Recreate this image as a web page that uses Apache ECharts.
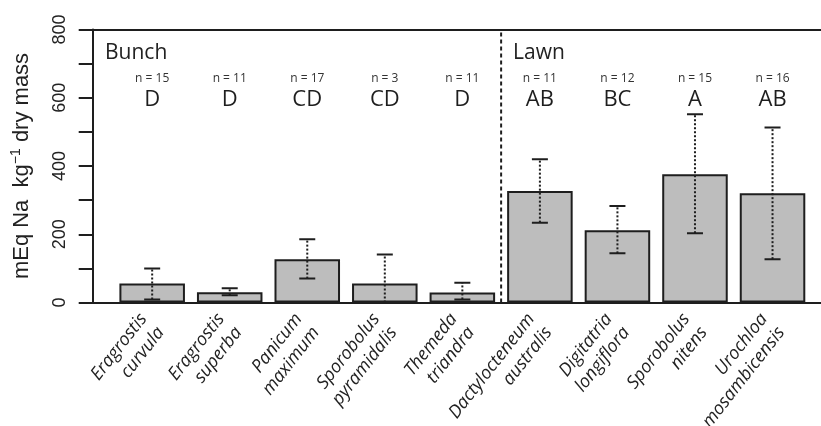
<!DOCTYPE html>
<html>
<head>
<meta charset="utf-8">
<script src="https://cdn.jsdelivr.net/npm/echarts@6/dist/echarts.min.js"></script>
<style>html,body{margin:0;padding:0;background:#fff;}#c{width:821px;height:426px;}</style>
</head>
<body>
<div id="c"></div>
<script>
// ---- data ----
var categories = [
  'Eragrostis\ncurvula', 'Eragrostis\nsuperba', 'Panicum\nmaximum', 'Sporobolus\npyramidalis', 'Themeda\ntriandra',
  'Dactylocteneum\naustralis', 'Digitatria\nlongiflora', 'Sporobolus\nnitens', 'Urochloa\nmosambicensis'
];
var means   = [56, 30, 127, 56, 29, 327, 212, 376, 320];
var errLow  = [9, 21, 70, 0, 9, 234, 144, 203, 127];
var errHigh = [100, 42, 185, 141, 58, 420, 283, 552, 513];
var sampleN = [15, 11, 17, 3, 11, 11, 12, 15, 16];
var groupLetters = ['D', 'D', 'CD', 'CD', 'D', 'AB', 'BC', 'A', 'AB'];
var groupNames = ['Bunch', 'Lawn'];
var bunchCount = 5;
var yTicks = [0, 200, 400, 600, 800];

// ---- layout ----
var W = 821, H = 426;
var plotTop = 29.5, plotBottom = 302.5;
var frameLeft = 92.7;
var barLeft = 113.4, barRight = 811.3;
var band = (barRight - barLeft) / categories.length;
var frameMin = -0.5 - (barLeft - frameLeft) / band;
var frameMax = categories.length - 0.5 + (W - barRight) / band;
var N_Y = 655, L_Y = 595;
var ink = '#1e1e1e';

var chart = echarts.init(document.getElementById('c'), null, {renderer: 'canvas'});

var errData = means.map(function (m, i) { return [i, errLow[i], errHigh[i]]; });
var annData = means.map(function (m, i) { return [i, N_Y, L_Y]; });

chart.setOption({
  animation: false,
  backgroundColor: '#fff',
  grid: [
    {left: barLeft, right: W - barRight, top: plotTop, bottom: H - plotBottom, containLabel: false, outerBoundsMode: 'none'},
    {left: frameLeft, right: 0, top: plotTop, bottom: H - plotBottom, containLabel: false, outerBoundsMode: 'none'}
  ],
  xAxis: [
    {
      type: 'category', gridIndex: 0, data: categories,
      axisLine: {show: false}, axisTick: {show: false},
      axisLabel: {
        rotate: 52, interval: 0, margin: 20,
        fontFamily: 'Open Sans', fontStyle: 'italic', fontSize: 18, lineHeight: 22,
        color: '#222', padding: [28, 0, 0, 0]
      }
    },
    {
      type: 'value', gridIndex: 1, min: frameMin, max: frameMax, position: 'bottom',
      axisLine: {show: true, onZero: false, lineStyle: {color: ink, width: 2}},
      axisTick: {show: false}, axisLabel: {show: false}, splitLine: {show: false}
    },
    {
      type: 'value', gridIndex: 1, min: frameMin, max: frameMax, position: 'top',
      axisLine: {show: true, onZero: false, lineStyle: {color: ink, width: 2}},
      axisTick: {show: false}, axisLabel: {show: false}, splitLine: {show: false}
    }
  ],
  yAxis: [
    {type: 'value', gridIndex: 0, min: 0, max: 800, show: false},
    {
      type: 'value', gridIndex: 1, min: 0, max: 800, interval: 100, position: 'left',
      axisLine: {show: true, onZero: false, lineStyle: {color: ink, width: 2}},
      axisTick: {show: true, length: 14, lineStyle: {color: ink, width: 2}},
      splitLine: {show: false},
      axisLabel: {
        rotate: 90, margin: 24, fontFamily: 'Liberation Sans', fontSize: 18, color: '#222',
        formatter: function (v) { return yTicks.indexOf(v) >= 0 ? String(v) : ''; }
      },
      name: 'mEq Na  kg{sup|\u22121} dry mass',
      nameLocation: 'middle', nameRotate: 90, nameGap: 58,
      nameTextStyle: {
        fontFamily: 'Liberation Sans', fontSize: 22, color: '#222',
        rich: {sup: {fontFamily: 'Liberation Sans', fontSize: 14, color: '#222', verticalAlign: 'top', padding: [0, 0, 12, 0]}}
      }
    }
  ],
  graphic: [
    {type: 'text', left: 105, top: 43, style: {text: groupNames[0], fontFamily: 'Open Sans', fontSize: 21, fill: '#222'}},
    {type: 'text', left: 513, top: 43, style: {text: groupNames[1], fontFamily: 'Open Sans', fontSize: 21, fill: '#222'}}
  ],
  series: [
    {
      type: 'bar', xAxisIndex: 0, yAxisIndex: 0, data: means, z: 2,
      barWidth: '84.5%',
      itemStyle: {color: '#bdbdbd', borderColor: ink, borderWidth: 2}
    },
    {
      type: 'custom', xAxisIndex: 0, yAxisIndex: 0, data: errData, clip: true, z: 10,
      renderItem: function (params, api) {
        var x = api.value(0);
        var lo = api.coord([x, api.value(1)]);
        var hi = api.coord([x, api.value(2)]);
        var half = 8;
        var children = [
          {type: 'line', shape: {x1: lo[0], y1: lo[1], x2: hi[0], y2: hi[1]},
           style: {stroke: ink, lineWidth: 2, lineDash: [2, 2]}},
          {type: 'line', shape: {x1: hi[0] - half, y1: hi[1], x2: hi[0] + half, y2: hi[1]},
           style: {stroke: ink, lineWidth: 2}}
        ];
        if (api.value(1) > 0) {
          children.push({type: 'line', shape: {x1: lo[0] - half, y1: lo[1], x2: lo[0] + half, y2: lo[1]},
            style: {stroke: ink, lineWidth: 2}});
        }
        return {type: 'group', children: children};
      }
    },
    {
      type: 'custom', xAxisIndex: 0, yAxisIndex: 0, data: annData, z: 10,
      renderItem: function (params, api) {
        var i = params.dataIndex;
        var pn = api.coord([api.value(0), api.value(1)]);
        var pl = api.coord([api.value(0), api.value(2)]);
        return {type: 'group', children: [
          {type: 'text', x: pn[0], y: pn[1], style: {text: 'n = ' + sampleN[i], fontFamily: 'Open Sans', fontSize: 12,
            fill: '#333', align: 'center', verticalAlign: 'middle'}},
          {type: 'text', x: pl[0], y: pl[1], style: {text: groupLetters[i], fontFamily: 'Open Sans', fontSize: 22,
            fill: '#1e1e1e', align: 'center', verticalAlign: 'middle'}}
        ]};
      }
    },
    {
      type: 'line', xAxisIndex: 1, yAxisIndex: 1, symbol: 'none', z: 3,
      data: [[bunchCount - 0.5, 0], [bunchCount - 0.5, 800]],
      lineStyle: {color: ink, width: 2, type: [4, 3]}
    }
  ]
});
</script>
</body>
</html>
